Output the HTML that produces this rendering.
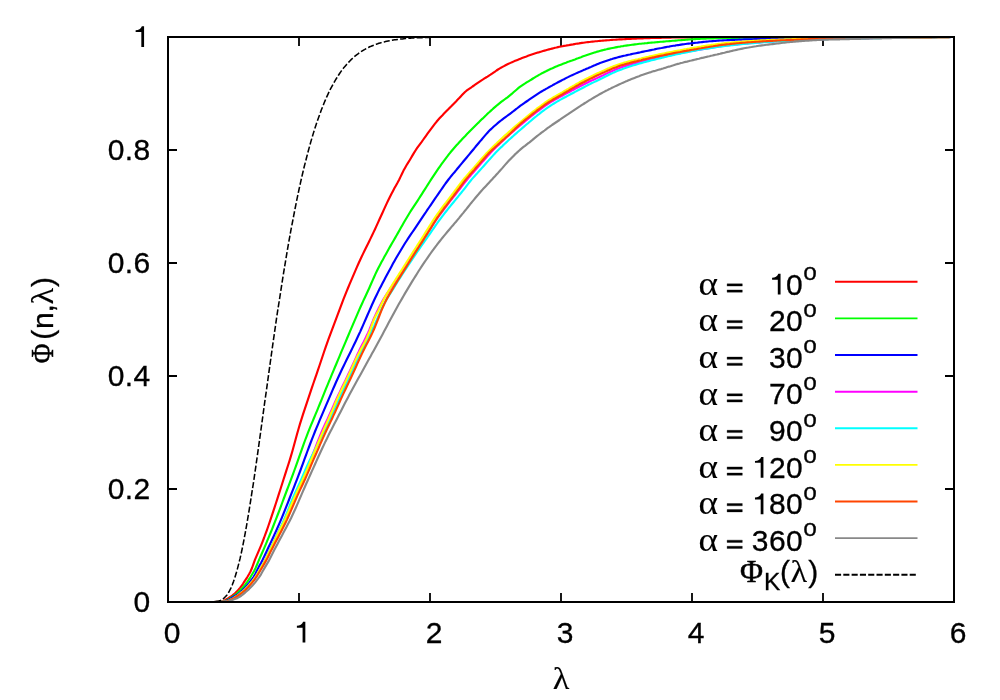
<!DOCTYPE html>
<html><head><meta charset="utf-8"><title>chart</title>
<style>html,body{margin:0;padding:0;background:#fff}svg{display:block}</style></head>
<body>
<svg width="1000" height="700" viewBox="0 0 1000 700" style="will-change:transform">
<rect width="1000" height="700" fill="#fff"/>
<path d="M168.0 602V593M168.0 37V46M299.0 602V593M299.0 37V46M430.0 602V593M430.0 37V46M561.0 602V593M561.0 37V46M692.0 602V593M692.0 37V46M823.0 602V593M823.0 37V46M954.0 602V593M954.0 37V46M168 602.0H177M954 602.0H945M168 489.0H177M954 489.0H945M168 376.0H177M954 376.0H945M168 263.0H177M954 263.0H945M168 150.0H177M954 150.0H945M168 37.0H177M954 37.0H945" stroke="#000" stroke-width="1.8" fill="none"/>
<g fill="none" stroke-width="2.15" stroke-linejoin="round">
<path d="M213.8 602.0 L222.0 601.5 L223.5 600.8 L225.0 600.1 L226.5 599.3 L228.0 598.5 L229.5 597.5 L231.0 596.5 L232.5 595.4 L234.0 594.2 L235.5 592.8 L237.0 591.3 L238.5 589.7 L240.0 587.9 L241.5 586.0 L243.0 583.8 L244.5 581.4 L246.0 579.1 L247.5 576.8 L249.0 574.3 L250.5 571.5 L252.0 568.0 L253.5 563.8 L255.0 559.7 L256.5 556.2 L258.0 552.7 L259.5 549.2 L261.0 545.6 L262.5 541.8 L264.0 538.0 L265.5 533.9 L267.0 529.8 L268.5 525.5 L270.0 521.2 L271.5 516.7 L273.0 512.2 L274.5 507.6 L276.0 503.0 L277.5 498.4 L279.0 493.7 L280.5 489.0 L282.0 484.2 L283.5 479.5 L285.0 474.8 L286.5 470.2 L288.0 465.5 L289.5 460.8 L291.0 455.9 L292.5 450.7 L294.0 445.3 L295.5 439.8 L297.0 434.3 L298.5 429.0 L300.0 423.9 L301.5 419.1 L303.0 414.4 L304.5 409.8 L306.0 405.3 L307.5 400.8 L309.0 396.3 L310.5 391.8 L312.0 387.4 L313.5 383.0 L315.0 378.6 L316.5 374.3 L318.0 369.9 L319.5 365.5 L321.0 361.0 L322.5 356.5 L324.0 352.0 L325.5 347.6 L327.0 343.4 L328.5 339.2 L330.0 335.1 L331.5 331.1 L333.0 327.1 L334.5 323.2 L336.0 319.2 L337.5 315.2 L339.0 311.1 L340.5 307.1 L342.0 303.1 L343.5 299.2 L345.0 295.4 L346.5 291.7 L348.0 288.0 L349.5 284.4 L351.0 280.9 L352.5 277.3 L354.0 273.8 L355.5 270.4 L357.0 266.9 L358.5 263.5 L360.0 260.2 L361.5 257.0 L363.0 253.9 L364.5 250.8 L366.0 247.7 L367.5 244.7 L369.0 241.7 L370.5 238.6 L372.0 235.5 L373.5 232.4 L375.0 229.2 L376.5 225.9 L378.0 222.6 L379.5 219.3 L381.0 216.0 L382.5 212.7 L384.0 209.4 L385.5 206.1 L387.0 202.9 L388.5 199.8 L390.0 196.7 L391.5 193.8 L393.0 190.9 L394.5 188.1 L396.0 185.4 L397.5 182.8 L399.0 180.0 L400.5 176.9 L402.0 173.7 L403.5 170.6 L405.0 167.9 L406.5 165.3 L408.0 162.9 L409.5 160.5 L411.0 158.0 L412.5 155.4 L414.0 152.9 L415.5 150.5 L417.0 148.2 L418.5 146.1 L420.0 144.1 L421.5 142.1 L423.0 140.0 L424.5 137.9 L426.0 135.8 L427.5 133.7 L429.0 131.6 L430.5 129.6 L432.0 127.6 L433.5 125.6 L435.0 123.7 L436.5 121.8 L438.0 120.0 L439.5 118.3 L441.0 116.7 L442.5 115.2 L444.0 113.6 L445.5 112.1 L447.0 110.6 L448.5 109.1 L450.0 107.5 L451.5 106.0 L453.0 104.4 L454.5 102.9 L456.0 101.4 L457.5 99.8 L459.0 98.3 L460.5 96.7 L462.0 95.1 L463.5 93.5 L465.0 92.0 L466.5 90.7 L468.0 89.6 L469.5 88.6 L471.0 87.6 L472.5 86.5 L474.0 85.5 L475.5 84.4 L477.0 83.3 L478.5 82.3 L480.0 81.3 L481.5 80.3 L483.0 79.4 L484.5 78.4 L486.0 77.5 L487.5 76.6 L489.0 75.6 L490.5 74.7 L492.0 73.7 L493.5 72.6 L495.0 71.6 L496.5 70.5 L498.0 69.5 L499.5 68.6 L501.0 67.7 L502.5 66.9 L504.0 66.1 L505.5 65.3 L507.0 64.5 L508.5 63.8 L510.0 63.1 L511.5 62.4 L513.0 61.8 L514.5 61.1 L516.0 60.5 L517.5 59.9 L519.0 59.3 L520.5 58.7 L522.0 58.1 L523.5 57.5 L525.0 56.9 L526.5 56.4 L528.0 55.8 L529.5 55.3 L531.0 54.8 L532.5 54.3 L534.0 53.8 L535.5 53.3 L537.0 52.8 L538.5 52.4 L540.0 51.9 L541.5 51.5 L543.0 51.0 L544.5 50.6 L546.0 50.2 L547.5 49.8 L549.0 49.4 L550.5 49.0 L552.0 48.6 L553.5 48.2 L555.0 47.8 L556.5 47.5 L558.0 47.1 L559.5 46.8 L561.0 46.5 L562.5 46.2 L564.0 45.9 L565.5 45.7 L567.0 45.4 L568.5 45.2 L570.0 44.9 L571.5 44.6 L573.0 44.4 L574.5 44.1 L576.0 43.8 L577.5 43.6 L579.0 43.4 L580.5 43.1 L582.0 42.9 L583.5 42.7 L585.0 42.5 L586.5 42.3 L588.0 42.1 L589.5 42.0 L591.0 41.8 L592.5 41.6 L594.0 41.5 L595.5 41.3 L597.0 41.2 L598.5 41.0 L600.0 40.9 L601.5 40.8 L603.0 40.6 L604.5 40.5 L606.0 40.4 L607.5 40.3 L609.0 40.2 L610.5 40.0 L612.0 39.9 L613.5 39.8 L615.0 39.7 L616.5 39.6 L618.0 39.5 L619.5 39.4 L621.0 39.3 L622.5 39.3 L624.0 39.2 L625.5 39.1 L627.0 39.0 L628.5 38.9 L630.0 38.8 L631.5 38.8 L633.0 38.7 L634.5 38.6 L636.0 38.6 L637.5 38.5 L639.0 38.4 L640.5 38.4 L642.0 38.3 L643.5 38.3 L645.0 38.2 L646.5 38.2 L648.0 38.1 L649.5 38.1 L651.0 38.0 L652.5 38.0 L654.0 37.9 L655.5 37.9 L657.0 37.9 L658.5 37.8 L660.0 37.8 L661.5 37.8 L663.0 37.7 L664.5 37.7 L666.0 37.7 L667.5 37.6 L669.0 37.6 L670.5 37.6 L672.0 37.5 L673.5 37.5 L675.0 37.5 L676.5 37.5 L678.0 37.4 L679.5 37.4 L681.0 37.4 L682.5 37.4 L684.0 37.3 L685.5 37.3 L687.0 37.3 L688.5 37.3 L690.0 37.3 L691.5 37.3 L693.0 37.3 L694.5 37.3 L696.0 37.3 L697.5 37.3 L699.0 37.3 L700.5 37.3 L702.0 37.3 L703.5 37.3 L705.0 37.3 L706.5 37.3 L708.0 37.3 L709.5 37.2 L711.0 37.2 L712.5 37.2 L714.0 37.2 L715.5 37.2 L717.0 37.2 L718.5 37.2 L720.0 37.2 L721.5 37.2 L723.0 37.2 L724.5 37.2 L726.0 37.2 L727.5 37.2 L729.0 37.2 L730.5 37.2 L732.0 37.2 L733.5 37.2 L735.0 37.2 L736.5 37.2 L738.0 37.2 L739.5 37.2 L741.0 37.2 L742.5 37.2 L744.0 37.2 L745.5 37.2 L747.0 37.2 L748.5 37.2 L750.0 37.2 L751.5 37.2 L753.0 37.2 L754.5 37.2 L756.0 37.2 L757.5 37.1 L759.0 37.1 L760.5 37.1 L762.0 37.1 L763.5 37.1 L765.0 37.1 L766.5 37.1 L768.0 37.1 L769.5 37.1 L771.0 37.1 L772.5 37.1 L774.0 37.1 L775.5 37.1 L777.0 37.1 L778.5 37.1 L780.0 37.1 L781.5 37.1 L783.0 37.1 L784.5 37.1 L786.0 37.1 L787.5 37.1 L789.0 37.1 L790.5 37.1 L792.0 37.1 L793.5 37.1 L795.0 37.1 L796.5 37.1 L798.0 37.1 L799.5 37.1 L801.0 37.1 L802.5 37.1 L804.0 37.1 L805.5 37.1 L807.0 37.1 L808.5 37.1 L810.0 37.1 L811.5 37.1 L813.0 37.1 L814.5 37.1 L816.0 37.1 L817.5 37.1 L819.0 37.1 L820.5 37.1 L822.0 37.1 L823.5 37.1 L825.0 37.1 L826.5 37.1 L828.0 37.1 L829.5 37.1 L831.0 37.0 L832.5 37.0 L834.0 37.0 L835.5 37.0 L837.0 37.0 L838.5 37.0 L840.0 37.0 L841.5 37.0 L843.0 37.0 L844.5 37.0 L846.0 37.0 L847.5 37.0 L849.0 37.0 L850.5 37.0 L852.0 37.0 L853.5 37.0 L855.0 37.0 L856.5 37.0 L858.0 37.0 L859.5 37.0 L861.0 37.0 L862.5 37.0 L864.0 37.0 L865.5 37.0 L867.0 37.0 L868.5 37.0 L870.0 37.0 L871.5 37.0 L873.0 37.0 L874.5 37.0 L876.0 37.0 L877.5 37.0 L879.0 37.0 L880.5 37.0 L882.0 37.0 L883.5 37.0 L885.0 37.0 L886.5 37.0 L888.0 37.0 L889.5 37.0 L891.0 37.0 L892.5 37.0 L894.0 37.0 L895.5 37.0 L897.0 37.0 L898.5 37.0 L900.0 37.0 L901.5 37.0 L903.0 37.0 L904.5 37.0 L906.0 37.0 L907.5 37.0 L909.0 37.0 L910.5 37.0 L912.0 37.0 L913.5 37.0 L915.0 37.0 L916.5 37.0 L918.0 37.0 L919.5 37.0 L921.0 37.0 L922.5 37.0 L924.0 37.0 L925.5 37.0 L927.0 37.0 L928.5 37.0 L930.0 37.0 L931.5 37.0 L933.0 37.0 L934.5 37.0 L936.0 37.0 L937.5 37.0 L939.0 37.0 L940.5 37.0 L942.0 37.0 L943.5 37.0 L945.0 37.0 L946.5 37.0 L948.0 37.0 L949.5 37.0 L951.0 37.0 L952.5 37.0 L954.0 37.0" stroke="#ff0000"/>
<path d="M213.8 602.0 L224.0 601.5 L225.5 600.9 L227.0 600.3 L228.5 599.4 L230.0 598.4 L231.5 597.4 L233.0 596.4 L234.5 595.4 L236.0 594.3 L237.5 593.1 L239.0 591.6 L240.5 590.1 L242.0 588.5 L243.5 586.8 L245.0 585.0 L246.5 583.0 L248.0 580.9 L249.5 578.7 L251.0 576.3 L252.5 573.8 L254.0 571.2 L255.5 568.1 L257.0 564.7 L258.5 561.2 L260.0 557.7 L261.5 554.3 L263.0 550.8 L264.5 547.3 L266.0 543.8 L267.5 540.2 L269.0 536.6 L270.5 533.0 L272.0 529.3 L273.5 525.5 L275.0 521.7 L276.5 517.9 L278.0 514.0 L279.5 510.1 L281.0 506.1 L282.5 502.0 L284.0 498.0 L285.5 494.0 L287.0 490.0 L288.5 486.1 L290.0 482.1 L291.5 478.1 L293.0 474.1 L294.5 470.0 L296.0 465.9 L297.5 461.6 L299.0 457.4 L300.5 453.1 L302.0 448.8 L303.5 444.6 L305.0 440.5 L306.5 436.6 L308.0 432.7 L309.5 428.9 L311.0 425.2 L312.5 421.6 L314.0 418.0 L315.5 414.4 L317.0 410.8 L318.5 407.2 L320.0 403.5 L321.5 399.9 L323.0 396.2 L324.5 392.4 L326.0 388.7 L327.5 385.1 L329.0 381.4 L330.5 377.8 L332.0 374.2 L333.5 370.6 L335.0 367.0 L336.5 363.5 L338.0 359.9 L339.5 356.3 L341.0 352.7 L342.5 349.2 L344.0 345.6 L345.5 342.1 L347.0 338.5 L348.5 335.0 L350.0 331.4 L351.5 327.9 L353.0 324.3 L354.5 320.8 L356.0 317.3 L357.5 313.8 L359.0 310.4 L360.5 307.0 L362.0 303.7 L363.5 300.4 L365.0 297.2 L366.5 294.0 L368.0 290.8 L369.5 287.5 L371.0 284.0 L372.5 280.6 L374.0 277.2 L375.5 273.9 L377.0 270.7 L378.5 267.7 L380.0 264.9 L381.5 262.1 L383.0 259.4 L384.5 256.6 L386.0 253.9 L387.5 251.2 L389.0 248.5 L390.5 245.9 L392.0 243.3 L393.5 240.7 L395.0 238.1 L396.5 235.5 L398.0 232.9 L399.5 230.3 L401.0 227.6 L402.5 224.9 L404.0 222.3 L405.5 219.7 L407.0 217.2 L408.5 214.7 L410.0 212.3 L411.5 209.9 L413.0 207.6 L414.5 205.3 L416.0 203.1 L417.5 200.8 L419.0 198.5 L420.5 196.1 L422.0 193.8 L423.5 191.4 L425.0 189.1 L426.5 186.7 L428.0 184.4 L429.5 182.0 L431.0 179.7 L432.5 177.4 L434.0 175.1 L435.5 172.8 L437.0 170.6 L438.5 168.4 L440.0 166.3 L441.5 164.2 L443.0 162.2 L444.5 160.1 L446.0 158.1 L447.5 156.2 L449.0 154.2 L450.5 152.3 L452.0 150.5 L453.5 148.7 L455.0 147.0 L456.5 145.3 L458.0 143.7 L459.5 142.0 L461.0 140.4 L462.5 138.8 L464.0 137.2 L465.5 135.7 L467.0 134.1 L468.5 132.6 L470.0 131.0 L471.5 129.5 L473.0 128.0 L474.5 126.5 L476.0 125.0 L477.5 123.5 L479.0 122.1 L480.5 120.6 L482.0 119.1 L483.5 117.7 L485.0 116.2 L486.5 114.8 L488.0 113.3 L489.5 112.0 L491.0 110.6 L492.5 109.3 L494.0 107.9 L495.5 106.6 L497.0 105.3 L498.5 104.1 L500.0 102.9 L501.5 101.7 L503.0 100.6 L504.5 99.5 L506.0 98.4 L507.5 97.3 L509.0 96.1 L510.5 94.9 L512.0 93.7 L513.5 92.3 L515.0 91.0 L516.5 89.7 L518.0 88.4 L519.5 87.2 L521.0 86.1 L522.5 85.1 L524.0 84.1 L525.5 83.2 L527.0 82.2 L528.5 81.3 L530.0 80.4 L531.5 79.5 L533.0 78.5 L534.5 77.6 L536.0 76.7 L537.5 75.8 L539.0 74.9 L540.5 74.1 L542.0 73.2 L543.5 72.5 L545.0 71.7 L546.5 71.0 L548.0 70.2 L549.5 69.5 L551.0 68.8 L552.5 68.2 L554.0 67.5 L555.5 66.8 L557.0 66.2 L558.5 65.6 L560.0 65.0 L561.5 64.4 L563.0 63.8 L564.5 63.2 L566.0 62.7 L567.5 62.1 L569.0 61.6 L570.5 61.0 L572.0 60.5 L573.5 59.9 L575.0 59.4 L576.5 58.8 L578.0 58.3 L579.5 57.7 L581.0 57.2 L582.5 56.6 L584.0 56.1 L585.5 55.6 L587.0 55.0 L588.5 54.5 L590.0 54.0 L591.5 53.5 L593.0 53.0 L594.5 52.5 L596.0 52.1 L597.5 51.6 L599.0 51.2 L600.5 50.8 L602.0 50.4 L603.5 50.0 L605.0 49.6 L606.5 49.3 L608.0 48.9 L609.5 48.6 L611.0 48.3 L612.5 48.0 L614.0 47.7 L615.5 47.4 L617.0 47.1 L618.5 46.8 L620.0 46.6 L621.5 46.3 L623.0 46.1 L624.5 45.8 L626.0 45.6 L627.5 45.4 L629.0 45.2 L630.5 45.0 L632.0 44.8 L633.5 44.6 L635.0 44.4 L636.5 44.2 L638.0 44.0 L639.5 43.8 L641.0 43.7 L642.5 43.5 L644.0 43.4 L645.5 43.2 L647.0 43.1 L648.5 42.9 L650.0 42.8 L651.5 42.6 L653.0 42.5 L654.5 42.4 L656.0 42.2 L657.5 42.1 L659.0 42.0 L660.5 41.8 L662.0 41.7 L663.5 41.6 L665.0 41.5 L666.5 41.3 L668.0 41.2 L669.5 41.1 L671.0 41.0 L672.5 40.8 L674.0 40.7 L675.5 40.6 L677.0 40.5 L678.5 40.3 L680.0 40.2 L681.5 40.1 L683.0 40.0 L684.5 39.9 L686.0 39.7 L687.5 39.6 L689.0 39.5 L690.5 39.4 L692.0 39.3 L693.5 39.2 L695.0 39.1 L696.5 39.0 L698.0 39.0 L699.5 38.9 L701.0 38.8 L702.5 38.7 L704.0 38.7 L705.5 38.6 L707.0 38.5 L708.5 38.5 L710.0 38.4 L711.5 38.4 L713.0 38.3 L714.5 38.3 L716.0 38.2 L717.5 38.2 L719.0 38.1 L720.5 38.1 L722.0 38.1 L723.5 38.0 L725.0 38.0 L726.5 38.0 L728.0 38.0 L729.5 37.9 L731.0 37.9 L732.5 37.9 L734.0 37.9 L735.5 37.8 L737.0 37.8 L738.5 37.8 L740.0 37.8 L741.5 37.7 L743.0 37.7 L744.5 37.7 L746.0 37.7 L747.5 37.7 L749.0 37.6 L750.5 37.6 L752.0 37.6 L753.5 37.6 L755.0 37.6 L756.5 37.5 L758.0 37.5 L759.5 37.5 L761.0 37.5 L762.5 37.5 L764.0 37.4 L765.5 37.4 L767.0 37.4 L768.5 37.4 L770.0 37.4 L771.5 37.4 L773.0 37.4 L774.5 37.3 L776.0 37.3 L777.5 37.3 L779.0 37.3 L780.5 37.3 L782.0 37.3 L783.5 37.3 L785.0 37.3 L786.5 37.3 L788.0 37.3 L789.5 37.3 L791.0 37.3 L792.5 37.3 L794.0 37.3 L795.5 37.2 L797.0 37.2 L798.5 37.2 L800.0 37.2 L801.5 37.2 L803.0 37.2 L804.5 37.2 L806.0 37.2 L807.5 37.2 L809.0 37.2 L810.5 37.2 L812.0 37.2 L813.5 37.2 L815.0 37.2 L816.5 37.2 L818.0 37.2 L819.5 37.2 L821.0 37.2 L822.5 37.2 L824.0 37.2 L825.5 37.2 L827.0 37.2 L828.5 37.2 L830.0 37.1 L831.5 37.1 L833.0 37.1 L834.5 37.1 L836.0 37.1 L837.5 37.1 L839.0 37.1 L840.5 37.1 L842.0 37.1 L843.5 37.1 L845.0 37.1 L846.5 37.1 L848.0 37.1 L849.5 37.1 L851.0 37.1 L852.5 37.1 L854.0 37.1 L855.5 37.1 L857.0 37.1 L858.5 37.1 L860.0 37.1 L861.5 37.1 L863.0 37.1 L864.5 37.1 L866.0 37.1 L867.5 37.1 L869.0 37.1 L870.5 37.1 L872.0 37.1 L873.5 37.1 L875.0 37.1 L876.5 37.1 L878.0 37.1 L879.5 37.1 L881.0 37.1 L882.5 37.0 L884.0 37.0 L885.5 37.0 L887.0 37.0 L888.5 37.0 L890.0 37.0 L891.5 37.0 L893.0 37.0 L894.5 37.0 L896.0 37.0 L897.5 37.0 L899.0 37.0 L900.5 37.0 L902.0 37.0 L903.5 37.0 L905.0 37.0 L906.5 37.0 L908.0 37.0 L909.5 37.0 L911.0 37.0 L912.5 37.0 L914.0 37.0 L915.5 37.0 L917.0 37.0 L918.5 37.0 L920.0 37.0 L921.5 37.0 L923.0 37.0 L924.5 37.0 L926.0 37.0 L927.5 37.0 L929.0 37.0 L930.5 37.0 L932.0 37.0 L933.5 37.0 L935.0 37.0 L936.5 37.0 L938.0 37.0 L939.5 37.0 L941.0 37.0 L942.5 37.0 L944.0 37.0 L945.5 37.0 L947.0 37.0 L948.5 37.0 L950.0 37.0 L951.5 37.0 L953.0 37.0 L954.0 37.0" stroke="#00ff00"/>
<path d="M213.8 602.0 L225.0 601.5 L226.5 600.9 L228.0 600.3 L229.5 599.4 L231.0 598.4 L232.5 597.4 L234.0 596.5 L235.5 595.7 L237.0 594.8 L238.5 593.8 L240.0 592.6 L241.5 591.2 L243.0 589.8 L244.5 588.3 L246.0 586.6 L247.5 584.9 L249.0 583.1 L250.5 581.2 L252.0 579.2 L253.5 577.1 L255.0 574.6 L256.5 571.5 L258.0 568.4 L259.5 565.6 L261.0 562.9 L262.5 560.0 L264.0 556.9 L265.5 553.7 L267.0 550.5 L268.5 547.3 L270.0 544.1 L271.5 540.9 L273.0 537.7 L274.5 534.4 L276.0 531.1 L277.5 527.8 L279.0 524.3 L280.5 520.8 L282.0 517.3 L283.5 513.6 L285.0 509.9 L286.5 506.1 L288.0 502.3 L289.5 498.5 L291.0 494.7 L292.5 490.9 L294.0 487.1 L295.5 483.2 L297.0 479.4 L298.5 475.4 L300.0 471.5 L301.5 467.4 L303.0 463.3 L304.5 459.2 L306.0 455.1 L307.5 451.0 L309.0 447.0 L310.5 443.0 L312.0 439.1 L313.5 435.3 L315.0 431.5 L316.5 427.9 L318.0 424.3 L319.5 420.7 L321.0 417.2 L322.5 413.7 L324.0 410.2 L325.5 406.6 L327.0 403.1 L328.5 399.6 L330.0 396.1 L331.5 392.6 L333.0 389.1 L334.5 385.7 L336.0 382.3 L337.5 379.0 L339.0 375.7 L340.5 372.5 L342.0 369.3 L343.5 366.2 L345.0 363.1 L346.5 360.1 L348.0 357.0 L349.5 354.0 L351.0 351.0 L352.5 347.9 L354.0 344.8 L355.5 341.7 L357.0 338.5 L358.5 335.3 L360.0 332.1 L361.5 328.7 L363.0 325.4 L364.5 321.9 L366.0 318.5 L367.5 315.0 L369.0 311.6 L370.5 308.2 L372.0 304.8 L373.5 301.5 L375.0 298.3 L376.5 295.2 L378.0 292.1 L379.5 289.1 L381.0 286.2 L382.5 283.3 L384.0 280.4 L385.5 277.5 L387.0 274.7 L388.5 272.0 L390.0 269.2 L391.5 266.4 L393.0 263.6 L394.5 260.9 L396.0 258.3 L397.5 255.7 L399.0 253.2 L400.5 250.7 L402.0 248.2 L403.5 245.7 L405.0 243.3 L406.5 241.0 L408.0 238.7 L409.5 236.4 L411.0 234.2 L412.5 232.0 L414.0 229.8 L415.5 227.6 L417.0 225.4 L418.5 223.1 L420.0 220.9 L421.5 218.7 L423.0 216.4 L424.5 214.2 L426.0 212.0 L427.5 209.7 L429.0 207.5 L430.5 205.3 L432.0 203.1 L433.5 200.9 L435.0 198.7 L436.5 196.5 L438.0 194.3 L439.5 192.1 L441.0 190.0 L442.5 187.8 L444.0 185.7 L445.5 183.5 L447.0 181.5 L448.5 179.5 L450.0 177.6 L451.5 175.7 L453.0 173.9 L454.5 172.2 L456.0 170.4 L457.5 168.5 L459.0 166.7 L460.5 164.9 L462.0 163.1 L463.5 161.3 L465.0 159.5 L466.5 157.7 L468.0 155.9 L469.5 154.1 L471.0 152.3 L472.5 150.5 L474.0 148.7 L475.5 146.8 L477.0 145.0 L478.5 143.2 L480.0 141.4 L481.5 139.7 L483.0 137.9 L484.5 136.1 L486.0 134.4 L487.5 132.7 L489.0 131.1 L490.5 129.6 L492.0 128.2 L493.5 126.8 L495.0 125.5 L496.5 124.2 L498.0 122.9 L499.5 121.7 L501.0 120.5 L502.5 119.3 L504.0 118.2 L505.5 117.1 L507.0 116.0 L508.5 114.9 L510.0 113.8 L511.5 112.7 L513.0 111.5 L514.5 110.3 L516.0 109.1 L517.5 108.0 L519.0 106.8 L520.5 105.7 L522.0 104.7 L523.5 103.6 L525.0 102.5 L526.5 101.5 L528.0 100.5 L529.5 99.4 L531.0 98.4 L532.5 97.4 L534.0 96.4 L535.5 95.4 L537.0 94.4 L538.5 93.4 L540.0 92.4 L541.5 91.5 L543.0 90.6 L544.5 89.8 L546.0 88.9 L547.5 88.1 L549.0 87.2 L550.5 86.4 L552.0 85.6 L553.5 84.7 L555.0 83.9 L556.5 83.1 L558.0 82.3 L559.5 81.5 L561.0 80.7 L562.5 79.9 L564.0 79.2 L565.5 78.4 L567.0 77.6 L568.5 76.9 L570.0 76.1 L571.5 75.4 L573.0 74.8 L574.5 74.1 L576.0 73.4 L577.5 72.7 L579.0 72.1 L580.5 71.4 L582.0 70.8 L583.5 70.1 L585.0 69.5 L586.5 68.8 L588.0 68.2 L589.5 67.5 L591.0 66.9 L592.5 66.2 L594.0 65.6 L595.5 65.0 L597.0 64.3 L598.5 63.7 L600.0 63.1 L601.5 62.6 L603.0 62.0 L604.5 61.4 L606.0 60.9 L607.5 60.4 L609.0 59.9 L610.5 59.4 L612.0 59.0 L613.5 58.5 L615.0 58.1 L616.5 57.7 L618.0 57.3 L619.5 56.9 L621.0 56.5 L622.5 56.1 L624.0 55.8 L625.5 55.5 L627.0 55.1 L628.5 54.8 L630.0 54.5 L631.5 54.1 L633.0 53.8 L634.5 53.5 L636.0 53.2 L637.5 52.9 L639.0 52.6 L640.5 52.3 L642.0 51.9 L643.5 51.6 L645.0 51.3 L646.5 51.0 L648.0 50.7 L649.5 50.4 L651.0 50.1 L652.5 49.8 L654.0 49.5 L655.5 49.1 L657.0 48.8 L658.5 48.5 L660.0 48.2 L661.5 48.0 L663.0 47.7 L664.5 47.4 L666.0 47.1 L667.5 46.8 L669.0 46.6 L670.5 46.3 L672.0 46.0 L673.5 45.8 L675.0 45.6 L676.5 45.3 L678.0 45.1 L679.5 44.9 L681.0 44.6 L682.5 44.4 L684.0 44.2 L685.5 44.0 L687.0 43.8 L688.5 43.6 L690.0 43.5 L691.5 43.3 L693.0 43.1 L694.5 42.9 L696.0 42.7 L697.5 42.6 L699.0 42.4 L700.5 42.3 L702.0 42.1 L703.5 41.9 L705.0 41.8 L706.5 41.6 L708.0 41.5 L709.5 41.3 L711.0 41.2 L712.5 41.1 L714.0 41.0 L715.5 40.9 L717.0 40.7 L718.5 40.6 L720.0 40.5 L721.5 40.5 L723.0 40.4 L724.5 40.3 L726.0 40.2 L727.5 40.1 L729.0 40.1 L730.5 40.0 L732.0 39.9 L733.5 39.8 L735.0 39.8 L736.5 39.7 L738.0 39.7 L739.5 39.6 L741.0 39.6 L742.5 39.5 L744.0 39.4 L745.5 39.4 L747.0 39.3 L748.5 39.3 L750.0 39.2 L751.5 39.2 L753.0 39.2 L754.5 39.1 L756.0 39.1 L757.5 39.0 L759.0 39.0 L760.5 38.9 L762.0 38.9 L763.5 38.9 L765.0 38.8 L766.5 38.8 L768.0 38.8 L769.5 38.7 L771.0 38.7 L772.5 38.7 L774.0 38.6 L775.5 38.6 L777.0 38.6 L778.5 38.5 L780.0 38.5 L781.5 38.5 L783.0 38.5 L784.5 38.4 L786.0 38.4 L787.5 38.4 L789.0 38.4 L790.5 38.3 L792.0 38.3 L793.5 38.3 L795.0 38.3 L796.5 38.3 L798.0 38.2 L799.5 38.2 L801.0 38.2 L802.5 38.2 L804.0 38.1 L805.5 38.1 L807.0 38.1 L808.5 38.1 L810.0 38.1 L811.5 38.0 L813.0 38.0 L814.5 38.0 L816.0 38.0 L817.5 38.0 L819.0 37.9 L820.5 37.9 L822.0 37.9 L823.5 37.9 L825.0 37.9 L826.5 37.8 L828.0 37.8 L829.5 37.8 L831.0 37.8 L832.5 37.8 L834.0 37.8 L835.5 37.7 L837.0 37.7 L838.5 37.7 L840.0 37.7 L841.5 37.7 L843.0 37.7 L844.5 37.7 L846.0 37.6 L847.5 37.6 L849.0 37.6 L850.5 37.6 L852.0 37.6 L853.5 37.6 L855.0 37.6 L856.5 37.5 L858.0 37.5 L859.5 37.5 L861.0 37.5 L862.5 37.5 L864.0 37.5 L865.5 37.5 L867.0 37.5 L868.5 37.5 L870.0 37.4 L871.5 37.4 L873.0 37.4 L874.5 37.4 L876.0 37.4 L877.5 37.4 L879.0 37.4 L880.5 37.4 L882.0 37.4 L883.5 37.3 L885.0 37.3 L886.5 37.3 L888.0 37.3 L889.5 37.3 L891.0 37.3 L892.5 37.3 L894.0 37.3 L895.5 37.3 L897.0 37.2 L898.5 37.2 L900.0 37.2 L901.5 37.2 L903.0 37.2 L904.5 37.2 L906.0 37.2 L907.5 37.2 L909.0 37.2 L910.5 37.2 L912.0 37.2 L913.5 37.1 L915.0 37.1 L916.5 37.1 L918.0 37.1 L919.5 37.1 L921.0 37.1 L922.5 37.1 L924.0 37.1 L925.5 37.1 L927.0 37.1 L928.5 37.1 L930.0 37.1 L931.5 37.1 L933.0 37.1 L934.5 37.1 L936.0 37.0 L937.5 37.0 L939.0 37.0 L940.5 37.0 L942.0 37.0 L943.5 37.0 L945.0 37.0 L946.5 37.0 L948.0 37.0 L949.5 37.0 L951.0 37.0 L952.5 37.0 L954.0 37.0" stroke="#0000ff"/>
<path d="M213.8 602.0 L227.0 601.5 L228.5 600.9 L230.0 600.2 L231.5 599.4 L233.0 598.6 L234.5 597.6 L236.0 596.7 L237.5 595.7 L239.0 594.6 L240.5 593.4 L242.0 592.2 L243.5 590.9 L245.0 589.5 L246.5 588.0 L248.0 586.4 L249.5 584.7 L251.0 583.0 L252.5 581.1 L254.0 579.1 L255.5 576.9 L257.0 574.5 L258.5 571.9 L260.0 569.2 L261.5 566.6 L263.0 563.9 L264.5 561.1 L266.0 558.2 L267.5 555.0 L269.0 551.8 L270.5 548.6 L272.0 545.4 L273.5 542.2 L275.0 539.1 L276.5 535.9 L278.0 532.8 L279.5 529.7 L281.0 526.7 L282.5 523.7 L284.0 520.6 L285.5 517.3 L287.0 513.8 L288.5 510.3 L290.0 506.8 L291.5 503.2 L293.0 499.6 L294.5 496.2 L296.0 492.9 L297.5 489.6 L299.0 486.4 L300.5 483.2 L302.0 479.9 L303.5 476.5 L305.0 473.0 L306.5 469.5 L308.0 466.0 L309.5 462.4 L311.0 458.8 L312.5 455.0 L314.0 451.1 L315.5 447.3 L317.0 443.4 L318.5 439.6 L320.0 435.8 L321.5 432.2 L323.0 428.7 L324.5 425.5 L326.0 422.3 L327.5 419.1 L329.0 415.8 L330.5 412.5 L332.0 409.1 L333.5 405.7 L335.0 402.2 L336.5 398.9 L338.0 395.7 L339.5 392.6 L341.0 389.4 L342.5 386.3 L344.0 383.3 L345.5 380.2 L347.0 377.0 L348.5 373.8 L350.0 370.6 L351.5 367.4 L353.0 364.1 L354.5 360.9 L356.0 357.6 L357.5 354.3 L359.0 351.1 L360.5 348.1 L362.0 345.1 L363.5 342.2 L365.0 339.1 L366.5 336.0 L368.0 332.9 L369.5 329.5 L371.0 325.7 L372.5 321.8 L374.0 318.2 L375.5 314.9 L377.0 311.7 L378.5 308.6 L380.0 305.7 L381.5 302.8 L383.0 300.1 L384.5 297.5 L386.0 295.1 L387.5 292.8 L389.0 290.5 L390.5 288.2 L392.0 286.0 L393.5 283.8 L395.0 281.6 L396.5 279.4 L398.0 277.3 L399.5 275.2 L401.0 273.1 L402.5 270.9 L404.0 268.7 L405.5 266.4 L407.0 264.2 L408.5 261.9 L410.0 259.6 L411.5 257.3 L413.0 255.1 L414.5 252.8 L416.0 250.6 L417.5 248.4 L419.0 246.1 L420.5 243.9 L422.0 241.6 L423.5 239.4 L425.0 237.1 L426.5 234.8 L428.0 232.4 L429.5 230.1 L431.0 227.8 L432.5 225.5 L434.0 223.1 L435.5 220.9 L437.0 218.7 L438.5 216.6 L440.0 214.5 L441.5 212.5 L443.0 210.5 L444.5 208.5 L446.0 206.5 L447.5 204.6 L449.0 202.6 L450.5 200.7 L452.0 198.8 L453.5 196.9 L455.0 195.0 L456.5 193.1 L458.0 191.2 L459.5 189.3 L461.0 187.3 L462.5 185.4 L464.0 183.4 L465.5 181.5 L467.0 179.7 L468.5 177.9 L470.0 176.2 L471.5 174.4 L473.0 172.7 L474.5 171.0 L476.0 169.3 L477.5 167.6 L479.0 165.9 L480.5 164.1 L482.0 162.4 L483.5 160.7 L485.0 159.0 L486.5 157.2 L488.0 155.5 L489.5 153.9 L491.0 152.3 L492.5 150.8 L494.0 149.3 L495.5 147.8 L497.0 146.3 L498.5 144.9 L500.0 143.4 L501.5 142.0 L503.0 140.6 L504.5 139.2 L506.0 137.8 L507.5 136.4 L509.0 135.1 L510.5 133.8 L512.0 132.4 L513.5 131.1 L515.0 129.8 L516.5 128.5 L518.0 127.2 L519.5 125.9 L521.0 124.7 L522.5 123.4 L524.0 122.2 L525.5 120.9 L527.0 119.7 L528.5 118.4 L530.0 117.2 L531.5 116.0 L533.0 114.8 L534.5 113.7 L536.0 112.5 L537.5 111.4 L539.0 110.3 L540.5 109.2 L542.0 108.1 L543.5 107.0 L545.0 105.9 L546.5 104.9 L548.0 103.9 L549.5 102.9 L551.0 101.9 L552.5 101.0 L554.0 100.2 L555.5 99.3 L557.0 98.5 L558.5 97.7 L560.0 96.8 L561.5 96.0 L563.0 95.2 L564.5 94.4 L566.0 93.6 L567.5 92.8 L569.0 92.0 L570.5 91.2 L572.0 90.4 L573.5 89.7 L575.0 88.9 L576.5 88.1 L578.0 87.3 L579.5 86.5 L581.0 85.8 L582.5 85.0 L584.0 84.3 L585.5 83.5 L587.0 82.8 L588.5 82.0 L590.0 81.3 L591.5 80.6 L593.0 79.9 L594.5 79.3 L596.0 78.6 L597.5 77.9 L599.0 77.2 L600.5 76.5 L602.0 75.8 L603.5 75.1 L605.0 74.3 L606.5 73.6 L608.0 72.9 L609.5 72.2 L611.0 71.5 L612.5 70.9 L614.0 70.2 L615.5 69.6 L617.0 69.0 L618.5 68.4 L620.0 67.8 L621.5 67.3 L623.0 66.8 L624.5 66.3 L626.0 65.9 L627.5 65.4 L629.0 65.0 L630.5 64.6 L632.0 64.1 L633.5 63.7 L635.0 63.3 L636.5 62.9 L638.0 62.5 L639.5 62.1 L641.0 61.7 L642.5 61.4 L644.0 61.0 L645.5 60.6 L647.0 60.2 L648.5 59.9 L650.0 59.5 L651.5 59.1 L653.0 58.8 L654.5 58.4 L656.0 58.1 L657.5 57.8 L659.0 57.4 L660.5 57.1 L662.0 56.8 L663.5 56.4 L665.0 56.1 L666.5 55.8 L668.0 55.5 L669.5 55.2 L671.0 54.9 L672.5 54.5 L674.0 54.2 L675.5 53.9 L677.0 53.6 L678.5 53.3 L680.0 53.1 L681.5 52.8 L683.0 52.5 L684.5 52.3 L686.0 52.0 L687.5 51.8 L689.0 51.5 L690.5 51.3 L692.0 51.0 L693.5 50.8 L695.0 50.5 L696.5 50.3 L698.0 50.0 L699.5 49.7 L701.0 49.5 L702.5 49.2 L704.0 49.0 L705.5 48.7 L707.0 48.4 L708.5 48.2 L710.0 47.9 L711.5 47.7 L713.0 47.4 L714.5 47.2 L716.0 46.9 L717.5 46.7 L719.0 46.5 L720.5 46.3 L722.0 46.0 L723.5 45.8 L725.0 45.7 L726.5 45.5 L728.0 45.3 L729.5 45.1 L731.0 45.0 L732.5 44.8 L734.0 44.6 L735.5 44.5 L737.0 44.4 L738.5 44.2 L740.0 44.1 L741.5 43.9 L743.0 43.8 L744.5 43.7 L746.0 43.5 L747.5 43.4 L749.0 43.3 L750.5 43.1 L752.0 43.0 L753.5 42.9 L755.0 42.7 L756.5 42.6 L758.0 42.5 L759.5 42.4 L761.0 42.2 L762.5 42.1 L764.0 42.0 L765.5 41.9 L767.0 41.8 L768.5 41.7 L770.0 41.6 L771.5 41.5 L773.0 41.4 L774.5 41.3 L776.0 41.2 L777.5 41.1 L779.0 41.0 L780.5 41.0 L782.0 40.9 L783.5 40.8 L785.0 40.7 L786.5 40.6 L788.0 40.6 L789.5 40.5 L791.0 40.4 L792.5 40.3 L794.0 40.3 L795.5 40.2 L797.0 40.1 L798.5 40.0 L800.0 40.0 L801.5 39.9 L803.0 39.8 L804.5 39.8 L806.0 39.7 L807.5 39.6 L809.0 39.6 L810.5 39.5 L812.0 39.5 L813.5 39.4 L815.0 39.3 L816.5 39.3 L818.0 39.2 L819.5 39.2 L821.0 39.2 L822.5 39.1 L824.0 39.1 L825.5 39.0 L827.0 39.0 L828.5 38.9 L830.0 38.9 L831.5 38.9 L833.0 38.8 L834.5 38.8 L836.0 38.8 L837.5 38.7 L839.0 38.7 L840.5 38.7 L842.0 38.6 L843.5 38.6 L845.0 38.5 L846.5 38.5 L848.0 38.5 L849.5 38.4 L851.0 38.4 L852.5 38.4 L854.0 38.4 L855.5 38.3 L857.0 38.3 L858.5 38.3 L860.0 38.3 L861.5 38.2 L863.0 38.2 L864.5 38.2 L866.0 38.2 L867.5 38.1 L869.0 38.1 L870.5 38.1 L872.0 38.1 L873.5 38.0 L875.0 38.0 L876.5 38.0 L878.0 38.0 L879.5 38.0 L881.0 37.9 L882.5 37.9 L884.0 37.9 L885.5 37.9 L887.0 37.9 L888.5 37.8 L890.0 37.8 L891.5 37.8 L893.0 37.8 L894.5 37.8 L896.0 37.7 L897.5 37.7 L899.0 37.7 L900.5 37.7 L902.0 37.7 L903.5 37.7 L905.0 37.6 L906.5 37.6 L908.0 37.6 L909.5 37.6 L911.0 37.6 L912.5 37.5 L914.0 37.5 L915.5 37.5 L917.0 37.5 L918.5 37.5 L920.0 37.5 L921.5 37.4 L923.0 37.4 L924.5 37.4 L926.0 37.4 L927.5 37.4 L929.0 37.3 L930.5 37.3 L932.0 37.3 L933.5 37.3 L935.0 37.3 L936.5 37.2 L938.0 37.2 L939.5 37.2 L941.0 37.2 L942.5 37.2 L944.0 37.1 L945.5 37.1 L947.0 37.1 L948.5 37.1 L950.0 37.1 L951.5 37.0 L953.0 37.0 L954.0 37.0" stroke="#ff00ff"/>
<path d="M213.8 602.0 L227.0 601.5 L228.5 600.9 L230.0 600.2 L231.5 599.4 L233.0 598.6 L234.5 597.6 L236.0 596.7 L237.5 595.7 L239.0 594.6 L240.5 593.4 L242.0 592.2 L243.5 591.0 L245.0 589.6 L246.5 588.1 L248.0 586.4 L249.5 584.8 L251.0 583.0 L252.5 581.2 L254.0 579.2 L255.5 577.0 L257.0 574.7 L258.5 572.1 L260.0 569.4 L261.5 566.8 L263.0 564.1 L264.5 561.3 L266.0 558.4 L267.5 555.2 L269.0 552.0 L270.5 548.8 L272.0 545.6 L273.5 542.3 L275.0 539.2 L276.5 536.0 L278.0 532.9 L279.5 529.7 L281.0 526.5 L282.5 523.3 L284.0 519.9 L285.5 516.4 L287.0 512.6 L288.5 508.9 L290.0 505.0 L291.5 501.2 L293.0 497.6 L294.5 494.2 L296.0 490.9 L297.5 487.6 L299.0 484.4 L300.5 481.1 L302.0 477.7 L303.5 474.2 L305.0 470.7 L306.5 467.3 L308.0 463.9 L309.5 460.7 L311.0 457.6 L312.5 454.7 L314.0 451.8 L315.5 448.8 L317.0 445.7 L318.5 442.6 L320.0 439.5 L321.5 436.6 L323.0 433.6 L324.5 430.7 L326.0 427.6 L327.5 424.4 L329.0 421.2 L330.5 418.0 L332.0 414.8 L333.5 411.5 L335.0 408.2 L336.5 404.9 L338.0 401.5 L339.5 398.2 L341.0 394.9 L342.5 391.7 L344.0 388.4 L345.5 385.3 L347.0 382.1 L348.5 378.9 L350.0 375.6 L351.5 372.3 L353.0 369.0 L354.5 365.6 L356.0 362.2 L357.5 358.9 L359.0 355.8 L360.5 352.8 L362.0 349.8 L363.5 347.0 L365.0 344.2 L366.5 341.4 L368.0 338.5 L369.5 335.5 L371.0 332.4 L372.5 329.3 L374.0 326.1 L375.5 322.7 L377.0 319.4 L378.5 316.0 L380.0 312.6 L381.5 309.3 L383.0 306.2 L384.5 303.2 L386.0 300.4 L387.5 297.9 L389.0 295.5 L390.5 293.2 L392.0 290.8 L393.5 288.4 L395.0 285.9 L396.5 283.5 L398.0 281.0 L399.5 278.6 L401.0 276.3 L402.5 274.0 L404.0 271.7 L405.5 269.4 L407.0 267.1 L408.5 264.9 L410.0 262.7 L411.5 260.4 L413.0 258.2 L414.5 256.0 L416.0 253.7 L417.5 251.5 L419.0 249.3 L420.5 247.2 L422.0 245.0 L423.5 242.9 L425.0 240.7 L426.5 238.6 L428.0 236.4 L429.5 234.3 L431.0 232.1 L432.5 230.0 L434.0 227.8 L435.5 225.7 L437.0 223.5 L438.5 221.4 L440.0 219.3 L441.5 217.3 L443.0 215.4 L444.5 213.4 L446.0 211.5 L447.5 209.6 L449.0 207.7 L450.5 205.9 L452.0 204.0 L453.5 202.2 L455.0 200.4 L456.5 198.5 L458.0 196.7 L459.5 194.8 L461.0 193.0 L462.5 191.1 L464.0 189.3 L465.5 187.3 L467.0 185.3 L468.5 183.4 L470.0 181.5 L471.5 179.6 L473.0 177.9 L474.5 176.2 L476.0 174.5 L477.5 172.9 L479.0 171.2 L480.5 169.6 L482.0 167.9 L483.5 166.2 L485.0 164.5 L486.5 162.8 L488.0 161.1 L489.5 159.4 L491.0 157.8 L492.5 156.1 L494.0 154.4 L495.5 152.8 L497.0 151.3 L498.5 149.8 L500.0 148.3 L501.5 146.9 L503.0 145.4 L504.5 144.0 L506.0 142.6 L507.5 141.2 L509.0 139.8 L510.5 138.5 L512.0 137.1 L513.5 135.8 L515.0 134.4 L516.5 133.1 L518.0 131.8 L519.5 130.5 L521.0 129.2 L522.5 127.9 L524.0 126.6 L525.5 125.3 L527.0 124.0 L528.5 122.8 L530.0 121.5 L531.5 120.2 L533.0 118.9 L534.5 117.7 L536.0 116.5 L537.5 115.2 L539.0 114.1 L540.5 112.9 L542.0 111.7 L543.5 110.6 L545.0 109.5 L546.5 108.4 L548.0 107.3 L549.5 106.3 L551.0 105.3 L552.5 104.4 L554.0 103.5 L555.5 102.6 L557.0 101.7 L558.5 100.8 L560.0 99.9 L561.5 99.1 L563.0 98.3 L564.5 97.5 L566.0 96.7 L567.5 95.9 L569.0 95.1 L570.5 94.3 L572.0 93.5 L573.5 92.7 L575.0 91.9 L576.5 91.1 L578.0 90.3 L579.5 89.5 L581.0 88.8 L582.5 88.0 L584.0 87.2 L585.5 86.4 L587.0 85.6 L588.5 84.8 L590.0 84.1 L591.5 83.3 L593.0 82.6 L594.5 81.9 L596.0 81.2 L597.5 80.5 L599.0 79.8 L600.5 79.0 L602.0 78.3 L603.5 77.5 L605.0 76.7 L606.5 76.0 L608.0 75.2 L609.5 74.5 L611.0 73.8 L612.5 73.1 L614.0 72.4 L615.5 71.8 L617.0 71.1 L618.5 70.5 L620.0 69.9 L621.5 69.4 L623.0 68.8 L624.5 68.3 L626.0 67.8 L627.5 67.3 L629.0 66.8 L630.5 66.3 L632.0 65.8 L633.5 65.3 L635.0 64.9 L636.5 64.4 L638.0 64.0 L639.5 63.5 L641.0 63.1 L642.5 62.7 L644.0 62.3 L645.5 61.9 L647.0 61.5 L648.5 61.1 L650.0 60.7 L651.5 60.3 L653.0 59.9 L654.5 59.6 L656.0 59.2 L657.5 58.8 L659.0 58.5 L660.5 58.1 L662.0 57.7 L663.5 57.4 L665.0 57.0 L666.5 56.6 L668.0 56.3 L669.5 55.9 L671.0 55.6 L672.5 55.2 L674.0 54.9 L675.5 54.5 L677.0 54.2 L678.5 53.9 L680.0 53.6 L681.5 53.2 L683.0 52.9 L684.5 52.6 L686.0 52.4 L687.5 52.1 L689.0 51.8 L690.5 51.5 L692.0 51.2 L693.5 50.9 L695.0 50.6 L696.5 50.3 L698.0 50.0 L699.5 49.7 L701.0 49.5 L702.5 49.3 L704.0 49.0 L705.5 48.8 L707.0 48.6 L708.5 48.4 L710.0 48.1 L711.5 47.9 L713.0 47.7 L714.5 47.5 L716.0 47.2 L717.5 47.0 L719.0 46.8 L720.5 46.6 L722.0 46.4 L723.5 46.2 L725.0 46.0 L726.5 45.8 L728.0 45.6 L729.5 45.4 L731.0 45.2 L732.5 45.1 L734.0 44.9 L735.5 44.7 L737.0 44.6 L738.5 44.4 L740.0 44.3 L741.5 44.1 L743.0 44.0 L744.5 43.9 L746.0 43.7 L747.5 43.6 L749.0 43.5 L750.5 43.3 L752.0 43.2 L753.5 43.1 L755.0 42.9 L756.5 42.8 L758.0 42.7 L759.5 42.6 L761.0 42.4 L762.5 42.3 L764.0 42.2 L765.5 42.1 L767.0 42.0 L768.5 41.9 L770.0 41.8 L771.5 41.7 L773.0 41.6 L774.5 41.5 L776.0 41.4 L777.5 41.3 L779.0 41.2 L780.5 41.1 L782.0 41.0 L783.5 40.9 L785.0 40.8 L786.5 40.8 L788.0 40.7 L789.5 40.6 L791.0 40.5 L792.5 40.4 L794.0 40.3 L795.5 40.2 L797.0 40.2 L798.5 40.1 L800.0 40.0 L801.5 39.9 L803.0 39.9 L804.5 39.8 L806.0 39.7 L807.5 39.7 L809.0 39.6 L810.5 39.6 L812.0 39.5 L813.5 39.5 L815.0 39.4 L816.5 39.4 L818.0 39.3 L819.5 39.3 L821.0 39.2 L822.5 39.2 L824.0 39.1 L825.5 39.1 L827.0 39.1 L828.5 39.0 L830.0 39.0 L831.5 39.0 L833.0 38.9 L834.5 38.9 L836.0 38.9 L837.5 38.8 L839.0 38.8 L840.5 38.8 L842.0 38.7 L843.5 38.7 L845.0 38.6 L846.5 38.6 L848.0 38.6 L849.5 38.5 L851.0 38.5 L852.5 38.5 L854.0 38.5 L855.5 38.4 L857.0 38.4 L858.5 38.4 L860.0 38.4 L861.5 38.3 L863.0 38.3 L864.5 38.3 L866.0 38.3 L867.5 38.2 L869.0 38.2 L870.5 38.2 L872.0 38.2 L873.5 38.1 L875.0 38.1 L876.5 38.1 L878.0 38.1 L879.5 38.1 L881.0 38.0 L882.5 38.0 L884.0 38.0 L885.5 38.0 L887.0 38.0 L888.5 37.9 L890.0 37.9 L891.5 37.9 L893.0 37.9 L894.5 37.9 L896.0 37.8 L897.5 37.8 L899.0 37.8 L900.5 37.8 L902.0 37.8 L903.5 37.8 L905.0 37.7 L906.5 37.7 L908.0 37.7 L909.5 37.7 L911.0 37.6 L912.5 37.6 L914.0 37.6 L915.5 37.6 L917.0 37.6 L918.5 37.5 L920.0 37.5 L921.5 37.5 L923.0 37.5 L924.5 37.5 L926.0 37.4 L927.5 37.4 L929.0 37.4 L930.5 37.4 L932.0 37.3 L933.5 37.3 L935.0 37.3 L936.5 37.3 L938.0 37.2 L939.5 37.2 L941.0 37.2 L942.5 37.2 L944.0 37.2 L945.5 37.1 L947.0 37.1 L948.5 37.1 L950.0 37.1 L951.5 37.0 L953.0 37.0 L954.0 37.0" stroke="#00ffff"/>
<path d="M213.8 602.0 L227.0 601.5 L228.5 600.9 L230.0 600.2 L231.5 599.4 L233.0 598.6 L234.5 597.6 L236.0 596.7 L237.5 595.7 L239.0 594.6 L240.5 593.4 L242.0 592.2 L243.5 591.0 L245.0 589.6 L246.5 588.1 L248.0 586.4 L249.5 584.8 L251.0 583.0 L252.5 581.2 L254.0 579.2 L255.5 577.0 L257.0 574.7 L258.5 572.1 L260.0 569.5 L261.5 566.9 L263.0 564.2 L264.5 561.5 L266.0 558.6 L267.5 555.5 L269.0 552.4 L270.5 549.2 L272.0 546.1 L273.5 543.0 L275.0 539.9 L276.5 536.8 L278.0 533.8 L279.5 530.8 L281.0 527.7 L282.5 524.7 L284.0 521.6 L285.5 518.4 L287.0 515.0 L288.5 511.6 L290.0 508.0 L291.5 504.5 L293.0 500.9 L294.5 497.5 L296.0 494.1 L297.5 490.8 L299.0 487.5 L300.5 484.4 L302.0 481.2 L303.5 477.8 L305.0 474.4 L306.5 470.9 L308.0 467.4 L309.5 463.8 L311.0 460.2 L312.5 456.6 L314.0 453.0 L315.5 449.4 L317.0 445.7 L318.5 442.0 L320.0 438.4 L321.5 434.9 L323.0 431.4 L324.5 428.0 L326.0 424.7 L327.5 421.4 L329.0 418.0 L330.5 414.5 L332.0 411.1 L333.5 407.6 L335.0 404.0 L336.5 400.5 L338.0 397.1 L339.5 394.0 L341.0 390.8 L342.5 387.7 L344.0 384.6 L345.5 381.5 L347.0 378.4 L348.5 375.2 L350.0 372.0 L351.5 368.8 L353.0 365.4 L354.5 362.1 L356.0 359.0 L357.5 355.9 L359.0 352.9 L360.5 350.0 L362.0 347.2 L363.5 344.5 L365.0 341.8 L366.5 338.7 L368.0 335.3 L369.5 331.7 L371.0 327.7 L372.5 323.3 L374.0 319.4 L375.5 316.2 L377.0 313.3 L378.5 310.4 L380.0 307.2 L381.5 304.0 L383.0 300.9 L384.5 298.0 L386.0 295.4 L387.5 292.8 L389.0 290.3 L390.5 287.8 L392.0 285.3 L393.5 282.9 L395.0 280.5 L396.5 278.1 L398.0 275.8 L399.5 273.4 L401.0 271.1 L402.5 268.7 L404.0 266.4 L405.5 264.0 L407.0 261.6 L408.5 259.2 L410.0 256.9 L411.5 254.5 L413.0 252.2 L414.5 249.8 L416.0 247.5 L417.5 245.2 L419.0 242.9 L420.5 240.5 L422.0 238.2 L423.5 235.8 L425.0 233.3 L426.5 230.9 L428.0 228.5 L429.5 226.1 L431.0 223.7 L432.5 221.3 L434.0 219.0 L435.5 216.8 L437.0 214.7 L438.5 212.6 L440.0 210.5 L441.5 208.5 L443.0 206.5 L444.5 204.5 L446.0 202.6 L447.5 200.6 L449.0 198.6 L450.5 196.6 L452.0 194.6 L453.5 192.7 L455.0 190.7 L456.5 188.7 L458.0 186.6 L459.5 184.6 L461.0 182.6 L462.5 180.7 L464.0 178.8 L465.5 177.1 L467.0 175.4 L468.5 173.7 L470.0 172.0 L471.5 170.3 L473.0 168.6 L474.5 166.9 L476.0 165.2 L477.5 163.4 L479.0 161.7 L480.5 160.0 L482.0 158.3 L483.5 156.6 L485.0 154.9 L486.5 153.3 L488.0 151.8 L489.5 150.3 L491.0 148.8 L492.5 147.3 L494.0 145.8 L495.5 144.4 L497.0 142.9 L498.5 141.5 L500.0 140.1 L501.5 138.7 L503.0 137.3 L504.5 135.9 L506.0 134.6 L507.5 133.2 L509.0 131.9 L510.5 130.6 L512.0 129.2 L513.5 127.9 L515.0 126.6 L516.5 125.3 L518.0 124.1 L519.5 122.8 L521.0 121.5 L522.5 120.3 L524.0 119.0 L525.5 117.8 L527.0 116.5 L528.5 115.3 L530.0 114.1 L531.5 112.9 L533.0 111.7 L534.5 110.5 L536.0 109.4 L537.5 108.2 L539.0 107.1 L540.5 106.0 L542.0 104.9 L543.5 103.8 L545.0 102.7 L546.5 101.7 L548.0 100.7 L549.5 99.7 L551.0 98.8 L552.5 97.9 L554.0 97.0 L555.5 96.2 L557.0 95.3 L558.5 94.5 L560.0 93.6 L561.5 92.8 L563.0 91.9 L564.5 91.0 L566.0 90.1 L567.5 89.3 L569.0 88.4 L570.5 87.5 L572.0 86.6 L573.5 85.8 L575.0 84.9 L576.5 84.0 L578.0 83.2 L579.5 82.3 L581.0 81.5 L582.5 80.7 L584.0 80.0 L585.5 79.2 L587.0 78.4 L588.5 77.7 L590.0 76.9 L591.5 76.2 L593.0 75.5 L594.5 74.7 L596.0 74.0 L597.5 73.3 L599.0 72.6 L600.5 71.9 L602.0 71.3 L603.5 70.6 L605.0 69.9 L606.5 69.2 L608.0 68.6 L609.5 68.0 L611.0 67.3 L612.5 66.7 L614.0 66.1 L615.5 65.6 L617.0 65.0 L618.5 64.5 L620.0 64.0 L621.5 63.5 L623.0 63.1 L624.5 62.6 L626.0 62.2 L627.5 61.8 L629.0 61.4 L630.5 61.0 L632.0 60.6 L633.5 60.2 L635.0 59.9 L636.5 59.5 L638.0 59.2 L639.5 58.8 L641.0 58.5 L642.5 58.1 L644.0 57.7 L645.5 57.4 L647.0 57.0 L648.5 56.7 L650.0 56.3 L651.5 56.0 L653.0 55.7 L654.5 55.4 L656.0 55.0 L657.5 54.7 L659.0 54.4 L660.5 54.1 L662.0 53.8 L663.5 53.5 L665.0 53.2 L666.5 52.9 L668.0 52.6 L669.5 52.3 L671.0 52.0 L672.5 51.7 L674.0 51.4 L675.5 51.1 L677.0 50.8 L678.5 50.5 L680.0 50.3 L681.5 50.0 L683.0 49.7 L684.5 49.4 L686.0 49.2 L687.5 48.9 L689.0 48.7 L690.5 48.4 L692.0 48.1 L693.5 47.9 L695.0 47.6 L696.5 47.4 L698.0 47.1 L699.5 46.8 L701.0 46.6 L702.5 46.3 L704.0 46.1 L705.5 45.9 L707.0 45.6 L708.5 45.4 L710.0 45.2 L711.5 44.9 L713.0 44.7 L714.5 44.5 L716.0 44.3 L717.5 44.1 L719.0 43.9 L720.5 43.7 L722.0 43.5 L723.5 43.3 L725.0 43.1 L726.5 43.0 L728.0 42.8 L729.5 42.7 L731.0 42.5 L732.5 42.4 L734.0 42.3 L735.5 42.1 L737.0 42.0 L738.5 41.9 L740.0 41.8 L741.5 41.7 L743.0 41.6 L744.5 41.5 L746.0 41.4 L747.5 41.3 L749.0 41.2 L750.5 41.1 L752.0 41.0 L753.5 40.9 L755.0 40.8 L756.5 40.7 L758.0 40.6 L759.5 40.5 L761.0 40.4 L762.5 40.4 L764.0 40.3 L765.5 40.2 L767.0 40.1 L768.5 40.1 L770.0 40.0 L771.5 39.9 L773.0 39.9 L774.5 39.8 L776.0 39.7 L777.5 39.7 L779.0 39.6 L780.5 39.6 L782.0 39.5 L783.5 39.5 L785.0 39.4 L786.5 39.4 L788.0 39.3 L789.5 39.3 L791.0 39.2 L792.5 39.1 L794.0 39.1 L795.5 39.1 L797.0 39.0 L798.5 39.0 L800.0 38.9 L801.5 38.9 L803.0 38.8 L804.5 38.7 L806.0 38.7 L807.5 38.6 L809.0 38.6 L810.5 38.6 L812.0 38.5 L813.5 38.5 L815.0 38.4 L816.5 38.4 L818.0 38.4 L819.5 38.3 L821.0 38.3 L822.5 38.3 L824.0 38.3 L825.5 38.2 L827.0 38.2 L828.5 38.2 L830.0 38.2 L831.5 38.1 L833.0 38.1 L834.5 38.1 L836.0 38.1 L837.5 38.1 L839.0 38.0 L840.5 38.0 L842.0 38.0 L843.5 38.0 L845.0 37.9 L846.5 37.9 L848.0 37.9 L849.5 37.9 L851.0 37.9 L852.5 37.9 L854.0 37.8 L855.5 37.8 L857.0 37.8 L858.5 37.8 L860.0 37.8 L861.5 37.8 L863.0 37.8 L864.5 37.8 L866.0 37.8 L867.5 37.7 L869.0 37.7 L870.5 37.7 L872.0 37.7 L873.5 37.7 L875.0 37.7 L876.5 37.7 L878.0 37.7 L879.5 37.7 L881.0 37.7 L882.5 37.7 L884.0 37.7 L885.5 37.7 L887.0 37.6 L888.5 37.6 L890.0 37.6 L891.5 37.6 L893.0 37.6 L894.5 37.6 L896.0 37.6 L897.5 37.6 L899.0 37.6 L900.5 37.6 L902.0 37.6 L903.5 37.6 L905.0 37.6 L906.5 37.5 L908.0 37.5 L909.5 37.5 L911.0 37.5 L912.5 37.5 L914.0 37.5 L915.5 37.4 L917.0 37.4 L918.5 37.4 L920.0 37.4 L921.5 37.4 L923.0 37.4 L924.5 37.3 L926.0 37.3 L927.5 37.3 L929.0 37.3 L930.5 37.3 L932.0 37.3 L933.5 37.2 L935.0 37.2 L936.5 37.2 L938.0 37.2 L939.5 37.2 L941.0 37.2 L942.5 37.1 L944.0 37.1 L945.5 37.1 L947.0 37.1 L948.5 37.1 L950.0 37.0 L951.5 37.0 L953.0 37.0 L954.0 37.0" stroke="#ffff00"/>
<path d="M213.8 602.0 L227.0 601.5 L228.5 600.9 L230.0 600.2 L231.5 599.5 L233.0 598.7 L234.5 597.9 L236.0 597.0 L237.5 596.0 L239.0 595.0 L240.5 593.9 L242.0 592.8 L243.5 591.5 L245.0 590.2 L246.5 588.7 L248.0 587.2 L249.5 585.6 L251.0 583.9 L252.5 582.1 L254.0 580.3 L255.5 578.2 L257.0 575.9 L258.5 573.5 L260.0 571.0 L261.5 568.5 L263.0 566.0 L264.5 563.4 L266.0 560.7 L267.5 557.9 L269.0 554.9 L270.5 551.8 L272.0 548.9 L273.5 546.0 L275.0 543.1 L276.5 540.2 L278.0 537.4 L279.5 534.5 L281.0 531.7 L282.5 528.8 L284.0 525.8 L285.5 522.7 L287.0 519.6 L288.5 516.3 L290.0 512.8 L291.5 509.4 L293.0 505.8 L294.5 502.3 L296.0 498.8 L297.5 495.4 L299.0 492.1 L300.5 488.9 L302.0 485.7 L303.5 482.5 L305.0 479.3 L306.5 475.9 L308.0 472.4 L309.5 469.0 L311.0 465.4 L312.5 461.9 L314.0 458.4 L315.5 455.0 L317.0 451.6 L318.5 448.2 L320.0 444.7 L321.5 441.3 L323.0 437.9 L324.5 434.6 L326.0 431.3 L327.5 428.1 L329.0 425.0 L330.5 421.9 L332.0 418.7 L333.5 415.4 L335.0 412.2 L336.5 408.9 L338.0 405.6 L339.5 402.2 L341.0 398.9 L342.5 395.6 L344.0 392.4 L345.5 389.2 L347.0 386.0 L348.5 382.9 L350.0 379.7 L351.5 376.5 L353.0 373.3 L354.5 370.0 L356.0 366.7 L357.5 363.3 L359.0 360.0 L360.5 356.8 L362.0 353.6 L363.5 350.5 L365.0 347.5 L366.5 344.6 L368.0 341.7 L369.5 338.7 L371.0 335.7 L372.5 332.6 L374.0 329.3 L375.5 325.6 L377.0 321.8 L378.5 318.0 L380.0 314.2 L381.5 310.4 L383.0 306.9 L384.5 303.6 L386.0 300.5 L387.5 297.6 L389.0 295.0 L390.5 292.4 L392.0 289.9 L393.5 287.3 L395.0 284.9 L396.5 282.4 L398.0 280.0 L399.5 277.6 L401.0 275.2 L402.5 272.9 L404.0 270.5 L405.5 268.1 L407.0 265.7 L408.5 263.3 L410.0 260.9 L411.5 258.5 L413.0 256.2 L414.5 253.8 L416.0 251.4 L417.5 249.1 L419.0 246.7 L420.5 244.4 L422.0 242.1 L423.5 239.7 L425.0 237.3 L426.5 234.9 L428.0 232.5 L429.5 230.1 L431.0 227.7 L432.5 225.2 L434.0 222.8 L435.5 220.5 L437.0 218.2 L438.5 216.0 L440.0 213.9 L441.5 211.8 L443.0 209.8 L444.5 207.7 L446.0 205.8 L447.5 203.8 L449.0 201.8 L450.5 199.8 L452.0 197.8 L453.5 195.9 L455.0 193.9 L456.5 191.9 L458.0 189.9 L459.5 187.9 L461.0 185.8 L462.5 183.8 L464.0 181.8 L465.5 179.9 L467.0 178.1 L468.5 176.4 L470.0 174.6 L471.5 173.0 L473.0 171.3 L474.5 169.6 L476.0 167.8 L477.5 166.1 L479.0 164.4 L480.5 162.6 L482.0 160.9 L483.5 159.2 L485.0 157.5 L486.5 155.8 L488.0 154.1 L489.5 152.5 L491.0 151.0 L492.5 149.6 L494.0 148.2 L495.5 146.8 L497.0 145.5 L498.5 144.1 L500.0 142.8 L501.5 141.4 L503.0 140.0 L504.5 138.7 L506.0 137.3 L507.5 136.0 L509.0 134.6 L510.5 133.2 L512.0 131.8 L513.5 130.4 L515.0 128.9 L516.5 127.5 L518.0 126.1 L519.5 124.7 L521.0 123.4 L522.5 122.2 L524.0 120.9 L525.5 119.7 L527.0 118.5 L528.5 117.3 L530.0 116.1 L531.5 114.9 L533.0 113.7 L534.5 112.5 L536.0 111.4 L537.5 110.2 L539.0 109.1 L540.5 108.0 L542.0 106.9 L543.5 105.8 L545.0 104.7 L546.5 103.7 L548.0 102.7 L549.5 101.7 L551.0 100.8 L552.5 99.9 L554.0 99.0 L555.5 98.2 L557.0 97.3 L558.5 96.5 L560.0 95.6 L561.5 94.8 L563.0 93.9 L564.5 93.0 L566.0 92.1 L567.5 91.3 L569.0 90.4 L570.5 89.5 L572.0 88.6 L573.5 87.8 L575.0 86.9 L576.5 86.0 L578.0 85.2 L579.5 84.3 L581.0 83.5 L582.5 82.7 L584.0 82.0 L585.5 81.2 L587.0 80.4 L588.5 79.7 L590.0 78.9 L591.5 78.2 L593.0 77.5 L594.5 76.7 L596.0 76.0 L597.5 75.3 L599.0 74.6 L600.5 73.9 L602.0 73.2 L603.5 72.6 L605.0 71.9 L606.5 71.2 L608.0 70.5 L609.5 69.9 L611.0 69.3 L612.5 68.6 L614.0 68.0 L615.5 67.5 L617.0 66.9 L618.5 66.3 L620.0 65.8 L621.5 65.3 L623.0 64.9 L624.5 64.4 L626.0 64.0 L627.5 63.6 L629.0 63.2 L630.5 62.8 L632.0 62.4 L633.5 62.0 L635.0 61.6 L636.5 61.3 L638.0 60.9 L639.5 60.5 L641.0 60.2 L642.5 59.8 L644.0 59.4 L645.5 59.1 L647.0 58.7 L648.5 58.4 L650.0 58.0 L651.5 57.7 L653.0 57.4 L654.5 57.1 L656.0 56.7 L657.5 56.4 L659.0 56.1 L660.5 55.8 L662.0 55.5 L663.5 55.2 L665.0 54.9 L666.5 54.6 L668.0 54.3 L669.5 54.0 L671.0 53.7 L672.5 53.4 L674.0 53.1 L675.5 52.8 L677.0 52.5 L678.5 52.2 L680.0 52.0 L681.5 51.7 L683.0 51.4 L684.5 51.1 L686.0 50.9 L687.5 50.6 L689.0 50.4 L690.5 50.1 L692.0 49.8 L693.5 49.6 L695.0 49.3 L696.5 49.1 L698.0 48.8 L699.5 48.5 L701.0 48.3 L702.5 48.0 L704.0 47.8 L705.5 47.5 L707.0 47.2 L708.5 47.0 L710.0 46.7 L711.5 46.5 L713.0 46.3 L714.5 46.0 L716.0 45.8 L717.5 45.6 L719.0 45.3 L720.5 45.1 L722.0 44.9 L723.5 44.8 L725.0 44.6 L726.5 44.4 L728.0 44.2 L729.5 44.1 L731.0 43.9 L732.5 43.7 L734.0 43.6 L735.5 43.5 L737.0 43.3 L738.5 43.2 L740.0 43.0 L741.5 42.9 L743.0 42.8 L744.5 42.7 L746.0 42.5 L747.5 42.4 L749.0 42.3 L750.5 42.2 L752.0 42.1 L753.5 42.0 L755.0 41.9 L756.5 41.8 L758.0 41.7 L759.5 41.6 L761.0 41.5 L762.5 41.4 L764.0 41.3 L765.5 41.2 L767.0 41.1 L768.5 41.0 L770.0 40.9 L771.5 40.8 L773.0 40.8 L774.5 40.7 L776.0 40.6 L777.5 40.5 L779.0 40.5 L780.5 40.4 L782.0 40.3 L783.5 40.2 L785.0 40.2 L786.5 40.1 L788.0 40.0 L789.5 40.0 L791.0 39.9 L792.5 39.8 L794.0 39.8 L795.5 39.7 L797.0 39.6 L798.5 39.6 L800.0 39.5 L801.5 39.4 L803.0 39.4 L804.5 39.3 L806.0 39.3 L807.5 39.2 L809.0 39.1 L810.5 39.1 L812.0 39.0 L813.5 39.0 L815.0 38.9 L816.5 38.9 L818.0 38.9 L819.5 38.8 L821.0 38.8 L822.5 38.7 L824.0 38.7 L825.5 38.7 L827.0 38.6 L828.5 38.6 L830.0 38.6 L831.5 38.6 L833.0 38.5 L834.5 38.5 L836.0 38.5 L837.5 38.4 L839.0 38.4 L840.5 38.4 L842.0 38.3 L843.5 38.3 L845.0 38.3 L846.5 38.2 L848.0 38.2 L849.5 38.2 L851.0 38.2 L852.5 38.1 L854.0 38.1 L855.5 38.1 L857.0 38.1 L858.5 38.1 L860.0 38.0 L861.5 38.0 L863.0 38.0 L864.5 38.0 L866.0 38.0 L867.5 37.9 L869.0 37.9 L870.5 37.9 L872.0 37.9 L873.5 37.9 L875.0 37.8 L876.5 37.8 L878.0 37.8 L879.5 37.8 L881.0 37.8 L882.5 37.8 L884.0 37.8 L885.5 37.7 L887.0 37.7 L888.5 37.7 L890.0 37.7 L891.5 37.7 L893.0 37.7 L894.5 37.7 L896.0 37.6 L897.5 37.6 L899.0 37.6 L900.5 37.6 L902.0 37.6 L903.5 37.6 L905.0 37.5 L906.5 37.5 L908.0 37.5 L909.5 37.5 L911.0 37.5 L912.5 37.5 L914.0 37.5 L915.5 37.4 L917.0 37.4 L918.5 37.4 L920.0 37.4 L921.5 37.4 L923.0 37.4 L924.5 37.3 L926.0 37.3 L927.5 37.3 L929.0 37.3 L930.5 37.3 L932.0 37.3 L933.5 37.2 L935.0 37.2 L936.5 37.2 L938.0 37.2 L939.5 37.2 L941.0 37.2 L942.5 37.1 L944.0 37.1 L945.5 37.1 L947.0 37.1 L948.5 37.1 L950.0 37.0 L951.5 37.0 L953.0 37.0 L954.0 37.0" stroke="#ff4500"/>
<path d="M213.8 602.0 L228.0 601.5 L229.5 601.0 L231.0 600.4 L232.5 599.9 L234.0 599.3 L235.5 598.8 L237.0 598.2 L238.5 597.4 L240.0 596.5 L241.5 595.5 L243.0 594.3 L244.5 593.1 L246.0 591.8 L247.5 590.5 L249.0 589.1 L250.5 587.6 L252.0 586.1 L253.5 584.4 L255.0 582.6 L256.5 580.7 L258.0 578.7 L259.5 576.6 L261.0 574.3 L262.5 571.6 L264.0 569.0 L265.5 566.4 L267.0 563.9 L268.5 561.4 L270.0 558.6 L271.5 555.6 L273.0 552.6 L274.5 549.6 L276.0 546.7 L277.5 543.9 L279.0 541.0 L280.5 538.2 L282.0 535.4 L283.5 532.6 L285.0 529.8 L286.5 527.0 L288.0 524.1 L289.5 521.2 L291.0 518.2 L292.5 515.0 L294.0 511.8 L295.5 508.5 L297.0 505.1 L298.5 501.6 L300.0 498.1 L301.5 494.6 L303.0 491.1 L304.5 487.7 L306.0 484.3 L307.5 481.0 L309.0 477.6 L310.5 474.2 L312.0 470.9 L313.5 467.6 L315.0 464.2 L316.5 460.9 L318.0 457.5 L319.5 454.2 L321.0 451.0 L322.5 447.8 L324.0 444.6 L325.5 441.4 L327.0 438.4 L328.5 435.3 L330.0 432.3 L331.5 429.4 L333.0 426.5 L334.5 423.6 L336.0 420.7 L337.5 417.8 L339.0 414.8 L340.5 411.9 L342.0 409.0 L343.5 406.1 L345.0 403.1 L346.5 400.2 L348.0 397.4 L349.5 394.5 L351.0 391.7 L352.5 388.9 L354.0 386.2 L355.5 383.5 L357.0 380.8 L358.5 378.1 L360.0 375.4 L361.5 372.7 L363.0 370.0 L364.5 367.3 L366.0 364.5 L367.5 361.8 L369.0 359.1 L370.5 356.4 L372.0 353.6 L373.5 350.9 L375.0 348.2 L376.5 345.4 L378.0 342.7 L379.5 339.9 L381.0 337.2 L382.5 334.4 L384.0 331.6 L385.5 328.8 L387.0 325.9 L388.5 323.1 L390.0 320.3 L391.5 317.5 L393.0 314.7 L394.5 311.9 L396.0 309.2 L397.5 306.5 L399.0 303.8 L400.5 301.2 L402.0 298.6 L403.5 296.0 L405.0 293.4 L406.5 290.9 L408.0 288.4 L409.5 285.9 L411.0 283.4 L412.5 280.9 L414.0 278.5 L415.5 276.1 L417.0 273.7 L418.5 271.3 L420.0 269.0 L421.5 266.7 L423.0 264.4 L424.5 262.2 L426.0 260.0 L427.5 257.8 L429.0 255.7 L430.5 253.5 L432.0 251.4 L433.5 249.4 L435.0 247.3 L436.5 245.4 L438.0 243.4 L439.5 241.5 L441.0 239.6 L442.5 237.7 L444.0 235.9 L445.5 234.1 L447.0 232.3 L448.5 230.5 L450.0 228.7 L451.5 226.9 L453.0 225.2 L454.5 223.4 L456.0 221.7 L457.5 219.9 L459.0 218.1 L460.5 216.2 L462.0 214.4 L463.5 212.6 L465.0 210.7 L466.5 208.9 L468.0 207.0 L469.5 205.1 L471.0 203.2 L472.5 201.4 L474.0 199.6 L475.5 197.8 L477.0 196.0 L478.5 194.3 L480.0 192.5 L481.5 190.8 L483.0 189.1 L484.5 187.5 L486.0 185.9 L487.5 184.3 L489.0 182.7 L490.5 181.1 L492.0 179.5 L493.5 177.8 L495.0 176.2 L496.5 174.5 L498.0 172.9 L499.5 171.2 L501.0 169.6 L502.5 167.9 L504.0 166.1 L505.5 164.4 L507.0 162.7 L508.5 161.1 L510.0 159.5 L511.5 157.9 L513.0 156.4 L514.5 154.9 L516.0 153.5 L517.5 152.1 L519.0 150.7 L520.5 149.4 L522.0 148.1 L523.5 146.9 L525.0 145.8 L526.5 144.6 L528.0 143.4 L529.5 142.3 L531.0 141.1 L532.5 139.9 L534.0 138.6 L535.5 137.4 L537.0 136.2 L538.5 135.0 L540.0 133.9 L541.5 132.7 L543.0 131.6 L544.5 130.5 L546.0 129.3 L547.5 128.2 L549.0 127.2 L550.5 126.1 L552.0 125.0 L553.5 124.0 L555.0 123.0 L556.5 122.0 L558.0 121.0 L559.5 120.0 L561.0 118.9 L562.5 117.9 L564.0 116.9 L565.5 115.9 L567.0 114.9 L568.5 113.9 L570.0 112.8 L571.5 111.8 L573.0 110.8 L574.5 109.8 L576.0 108.8 L577.5 107.8 L579.0 106.8 L580.5 105.9 L582.0 104.9 L583.5 104.0 L585.0 103.0 L586.5 102.1 L588.0 101.1 L589.5 100.2 L591.0 99.3 L592.5 98.4 L594.0 97.5 L595.5 96.6 L597.0 95.8 L598.5 94.9 L600.0 94.0 L601.5 93.2 L603.0 92.4 L604.5 91.6 L606.0 90.8 L607.5 90.1 L609.0 89.3 L610.5 88.6 L612.0 87.8 L613.5 87.1 L615.0 86.4 L616.5 85.7 L618.0 85.0 L619.5 84.3 L621.0 83.6 L622.5 82.9 L624.0 82.3 L625.5 81.6 L627.0 81.0 L628.5 80.3 L630.0 79.7 L631.5 79.1 L633.0 78.5 L634.5 77.9 L636.0 77.3 L637.5 76.7 L639.0 76.2 L640.5 75.6 L642.0 75.1 L643.5 74.6 L645.0 74.0 L646.5 73.5 L648.0 73.0 L649.5 72.5 L651.0 72.1 L652.5 71.6 L654.0 71.1 L655.5 70.7 L657.0 70.2 L658.5 69.8 L660.0 69.4 L661.5 68.9 L663.0 68.5 L664.5 68.0 L666.0 67.6 L667.5 67.1 L669.0 66.6 L670.5 66.2 L672.0 65.7 L673.5 65.3 L675.0 64.8 L676.5 64.3 L678.0 63.9 L679.5 63.5 L681.0 63.0 L682.5 62.7 L684.0 62.3 L685.5 61.9 L687.0 61.6 L688.5 61.2 L690.0 60.8 L691.5 60.5 L693.0 60.1 L694.5 59.7 L696.0 59.4 L697.5 59.0 L699.0 58.7 L700.5 58.3 L702.0 57.9 L703.5 57.6 L705.0 57.2 L706.5 56.9 L708.0 56.5 L709.5 56.2 L711.0 55.8 L712.5 55.5 L714.0 55.1 L715.5 54.8 L717.0 54.5 L718.5 54.1 L720.0 53.8 L721.5 53.4 L723.0 53.0 L724.5 52.7 L726.0 52.3 L727.5 51.9 L729.0 51.6 L730.5 51.2 L732.0 50.9 L733.5 50.5 L735.0 50.2 L736.5 49.9 L738.0 49.5 L739.5 49.2 L741.0 48.9 L742.5 48.6 L744.0 48.3 L745.5 48.0 L747.0 47.7 L748.5 47.5 L750.0 47.2 L751.5 47.0 L753.0 46.7 L754.5 46.5 L756.0 46.3 L757.5 46.0 L759.0 45.8 L760.5 45.6 L762.0 45.4 L763.5 45.2 L765.0 45.0 L766.5 44.8 L768.0 44.6 L769.5 44.4 L771.0 44.3 L772.5 44.1 L774.0 43.9 L775.5 43.7 L777.0 43.5 L778.5 43.4 L780.0 43.2 L781.5 43.0 L783.0 42.8 L784.5 42.7 L786.0 42.5 L787.5 42.3 L789.0 42.2 L790.5 42.0 L792.0 41.9 L793.5 41.8 L795.0 41.6 L796.5 41.5 L798.0 41.4 L799.5 41.2 L801.0 41.1 L802.5 41.0 L804.0 40.9 L805.5 40.8 L807.0 40.7 L808.5 40.6 L810.0 40.5 L811.5 40.4 L813.0 40.3 L814.5 40.2 L816.0 40.1 L817.5 40.0 L819.0 39.9 L820.5 39.9 L822.0 39.8 L823.5 39.7 L825.0 39.7 L826.5 39.6 L828.0 39.6 L829.5 39.5 L831.0 39.5 L832.5 39.5 L834.0 39.4 L835.5 39.4 L837.0 39.3 L838.5 39.3 L840.0 39.3 L841.5 39.2 L843.0 39.2 L844.5 39.2 L846.0 39.1 L847.5 39.1 L849.0 39.1 L850.5 39.0 L852.0 39.0 L853.5 39.0 L855.0 38.9 L856.5 38.9 L858.0 38.8 L859.5 38.8 L861.0 38.8 L862.5 38.7 L864.0 38.7 L865.5 38.7 L867.0 38.6 L868.5 38.6 L870.0 38.5 L871.5 38.5 L873.0 38.5 L874.5 38.4 L876.0 38.4 L877.5 38.4 L879.0 38.3 L880.5 38.3 L882.0 38.3 L883.5 38.2 L885.0 38.2 L886.5 38.2 L888.0 38.1 L889.5 38.1 L891.0 38.1 L892.5 38.0 L894.0 38.0 L895.5 38.0 L897.0 38.0 L898.5 37.9 L900.0 37.9 L901.5 37.9 L903.0 37.9 L904.5 37.8 L906.0 37.8 L907.5 37.8 L909.0 37.7 L910.5 37.7 L912.0 37.7 L913.5 37.7 L915.0 37.6 L916.5 37.6 L918.0 37.6 L919.5 37.6 L921.0 37.5 L922.5 37.5 L924.0 37.5 L925.5 37.5 L927.0 37.4 L928.5 37.4 L930.0 37.4 L931.5 37.4 L933.0 37.3 L934.5 37.3 L936.0 37.3 L937.5 37.3 L939.0 37.2 L940.5 37.2 L942.0 37.2 L943.5 37.2 L945.0 37.2 L946.5 37.1 L948.0 37.1 L949.5 37.1 L951.0 37.0 L952.5 37.0 L954.0 37.0" stroke="#888888"/>
<path d="M215.2 601.7 L216.5 601.5 L217.8 601.3 L219.1 600.9 L220.4 600.4 L221.7 599.8 L223.0 598.9 L224.3 597.8 L225.6 596.5 L227.0 594.9 L228.3 593.0 L229.6 590.7 L230.9 588.1 L232.2 585.0 L233.5 581.6 L234.8 577.8 L236.1 573.6 L237.4 568.9 L238.7 563.9 L240.1 558.4 L241.4 552.5 L242.7 546.3 L244.0 539.6 L245.3 532.6 L246.6 525.3 L247.9 517.7 L249.2 509.8 L250.5 501.6 L251.8 493.1 L253.2 484.5 L254.5 475.6 L255.8 466.6 L257.1 457.5 L258.4 448.2 L259.7 438.8 L261.0 429.4 L262.3 419.9 L263.6 410.4 L264.9 400.9 L266.3 391.3 L267.6 381.9 L268.9 372.4 L270.2 363.0 L271.5 353.7 L272.8 344.4 L274.1 335.3 L275.4 326.3 L276.7 317.3 L278.0 308.6 L279.4 299.9 L280.7 291.4 L282.0 283.0 L283.3 274.8 L284.6 266.8 L285.9 258.9 L287.2 251.2 L288.5 243.6 L289.8 236.3 L291.1 229.1 L292.5 222.0 L293.8 215.2 L295.1 208.5 L296.4 202.0 L297.7 195.7 L299.0 189.5 L300.3 183.6 L301.6 177.8 L302.9 172.2 L304.2 166.7 L305.6 161.4 L306.9 156.3 L308.2 151.3 L309.5 146.5 L310.8 141.9 L312.1 137.4 L313.4 133.1 L314.7 128.9 L316.0 124.9 L317.3 121.0 L318.7 117.2 L320.0 113.6 L321.3 110.1 L322.6 106.8 L323.9 103.5 L325.2 100.4 L326.5 97.4 L327.8 94.6 L329.1 91.8 L330.4 89.2 L331.8 86.6 L333.1 84.2 L334.4 81.9 L335.7 79.7 L337.0 77.5 L338.3 75.5 L339.6 73.5 L340.9 71.6 L342.2 69.9 L343.5 68.1 L344.9 66.5 L346.2 65.0 L347.5 63.5 L348.8 62.1 L350.1 60.7 L351.4 59.4 L352.7 58.2 L354.0 57.0 L355.3 55.9 L356.6 54.9 L358.0 53.9 L359.3 52.9 L360.6 52.0 L361.9 51.1 L363.2 50.3 L364.5 49.6 L365.8 48.8 L367.1 48.1 L368.4 47.5 L369.7 46.8 L371.1 46.3 L372.4 45.7 L373.7 45.2 L375.0 44.7 L376.3 44.2 L377.6 43.8 L378.9 43.3 L380.2 42.9 L381.5 42.6 L382.8 42.2 L384.2 41.9 L385.5 41.6 L386.8 41.3 L388.1 41.0 L389.4 40.7 L390.7 40.5 L392.0 40.3 L393.3 40.0 L394.6 39.8 L395.9 39.7 L397.3 39.5 L398.6 39.3 L399.9 39.1 L401.2 39.0 L402.5 38.9 L403.8 38.7 L405.1 38.6 L406.4 38.5 L407.7 38.4 L409.0 38.3 L410.4 38.2 L411.7 38.1 L413.0 38.0 L414.3 38.0 L415.6 37.9 L416.9 37.8 L418.2 37.8 L419.5 37.7 L420.8 37.7 L422.1 37.6 L423.5 37.6 L424.8 37.5 L426.1 37.5 L427.4 37.4 L428.7 37.4 L430.0 37.4" stroke="#000" stroke-width="1.55" stroke-dasharray="6.1 2.2"/>
</g>
<rect x="168" y="37" width="786" height="565" fill="none" stroke="#000" stroke-width="2"/>
<g font-family="'Liberation Sans', sans-serif" font-size="30" fill="#000" stroke="#000" stroke-width="0.32">
<text x="163.66" y="642.60">0</text>
<path stroke="none" transform="translate(294.54,642.60)" d="M10.8 0H8.05V-14.9H2.35V-16.8C5.3 -16.8 7.6 -18 8.6 -20.8H10.8Z"/>
<text x="425.66" y="642.60">2</text>
<text x="556.66" y="642.60">3</text>
<text x="687.66" y="642.60">4</text>
<text x="818.66" y="642.60">5</text>
<text x="949.66" y="642.60">6</text>
<text x="133.40" y="612.00">0</text>
<text x="107.71" y="499.00">0</text><text x="124.72" y="499.00">.</text><text x="133.40" y="499.00">2</text>
<text x="107.71" y="386.00">0</text><text x="124.72" y="386.00">.</text><text x="133.40" y="386.00">4</text>
<text x="107.71" y="273.00">0</text><text x="124.72" y="273.00">.</text><text x="133.40" y="273.00">6</text>
<text x="107.71" y="160.00">0</text><text x="124.72" y="160.00">.</text><text x="133.40" y="160.00">8</text>
<path stroke="none" transform="translate(133.28,47.00)" d="M10.8 0H8.05V-14.9H2.35V-16.8C5.3 -16.8 7.6 -18 8.6 -20.8H10.8Z"/>
<text transform="translate(698.6,294.6) scale(1.12,1)" stroke-width="0.12" font-family="'Liberation Serif', serif" font-size="33.2">α</text>
<path d="M727.1 283.80h15.2v2.3h-15.2zM727.1 289.90h15.2v2.3h-15.2z"/>
<path stroke="none" transform="translate(769.75,294.60)" d="M10.8 0H8.05V-14.9H2.35V-16.8C5.3 -16.8 7.6 -18 8.6 -20.8H10.8Z"/><text x="786.10" y="294.60">0</text>
<text x="803.3" y="280.0" font-size="24.4">o</text>
<path d="M835 281.8H917.5" stroke="#ff0000" stroke-width="1.9" fill="none"/>
<text transform="translate(698.6,331.2) scale(1.12,1)" stroke-width="0.12" font-family="'Liberation Serif', serif" font-size="33.2">α</text>
<path d="M727.1 320.42h15.2v2.3h-15.2zM727.1 326.52h15.2v2.3h-15.2z"/>
<text x="768.97" y="331.22">2</text><text x="786.10" y="331.22">0</text>
<text x="803.3" y="316.6" font-size="24.4">o</text>
<path d="M835 318.4H917.5" stroke="#00ff00" stroke-width="1.9" fill="none"/>
<text transform="translate(698.6,367.8) scale(1.12,1)" stroke-width="0.12" font-family="'Liberation Serif', serif" font-size="33.2">α</text>
<path d="M727.1 357.04h15.2v2.3h-15.2zM727.1 363.14h15.2v2.3h-15.2z"/>
<text x="768.97" y="367.84">3</text><text x="786.10" y="367.84">0</text>
<text x="803.3" y="353.2" font-size="24.4">o</text>
<path d="M835 355.0H917.5" stroke="#0000ff" stroke-width="1.9" fill="none"/>
<text transform="translate(698.6,404.5) scale(1.12,1)" stroke-width="0.12" font-family="'Liberation Serif', serif" font-size="33.2">α</text>
<path d="M727.1 393.66h15.2v2.3h-15.2zM727.1 399.76h15.2v2.3h-15.2z"/>
<text x="768.97" y="404.46">7</text><text x="786.10" y="404.46">0</text>
<text x="803.3" y="389.9" font-size="24.4">o</text>
<path d="M835 391.7H917.5" stroke="#ff00ff" stroke-width="1.9" fill="none"/>
<text transform="translate(698.6,441.1) scale(1.12,1)" stroke-width="0.12" font-family="'Liberation Serif', serif" font-size="33.2">α</text>
<path d="M727.1 430.28h15.2v2.3h-15.2zM727.1 436.38h15.2v2.3h-15.2z"/>
<text x="768.97" y="441.08">9</text><text x="786.10" y="441.08">0</text>
<text x="803.3" y="426.5" font-size="24.4">o</text>
<path d="M835 428.3H917.5" stroke="#00ffff" stroke-width="1.9" fill="none"/>
<text transform="translate(698.6,477.7) scale(1.12,1)" stroke-width="0.12" font-family="'Liberation Serif', serif" font-size="33.2">α</text>
<path d="M727.1 466.90h15.2v2.3h-15.2zM727.1 473.00h15.2v2.3h-15.2z"/>
<path stroke="none" transform="translate(752.63,477.70)" d="M10.8 0H8.05V-14.9H2.35V-16.8C5.3 -16.8 7.6 -18 8.6 -20.8H10.8Z"/><text x="768.97" y="477.70">2</text><text x="786.10" y="477.70">0</text>
<text x="803.3" y="463.1" font-size="24.4">o</text>
<path d="M835 464.9H917.5" stroke="#ffff00" stroke-width="1.9" fill="none"/>
<text transform="translate(698.6,514.3) scale(1.12,1)" stroke-width="0.12" font-family="'Liberation Serif', serif" font-size="33.2">α</text>
<path d="M727.1 503.52h15.2v2.3h-15.2zM727.1 509.62h15.2v2.3h-15.2z"/>
<path stroke="none" transform="translate(752.63,514.32)" d="M10.8 0H8.05V-14.9H2.35V-16.8C5.3 -16.8 7.6 -18 8.6 -20.8H10.8Z"/><text x="768.97" y="514.32">8</text><text x="786.10" y="514.32">0</text>
<text x="803.3" y="499.7" font-size="24.4">o</text>
<path d="M835 501.5H917.5" stroke="#ff4500" stroke-width="1.9" fill="none"/>
<text transform="translate(698.6,550.9) scale(1.12,1)" stroke-width="0.12" font-family="'Liberation Serif', serif" font-size="33.2">α</text>
<path d="M727.1 540.14h15.2v2.3h-15.2zM727.1 546.24h15.2v2.3h-15.2z"/>
<text x="751.85" y="550.94">3</text><text x="768.97" y="550.94">6</text><text x="786.10" y="550.94">0</text>
<text x="803.3" y="536.3" font-size="24.4">o</text>
<path d="M835 538.1H917.5" stroke="#888888" stroke-width="1.9" fill="none"/>
<path d="M835 574.8H917" stroke="#000" stroke-width="1.9" stroke-dasharray="6.1 2.2" fill="none"/>
<text x="740" y="581.8" stroke-width="0.5" font-family="'Liberation Serif', serif" font-size="31.5">Φ</text>
<text x="763.9" y="590.2" font-size="24.4">K</text>
<text x="780" y="581.8">(</text>
<text transform="translate(790.4,581.8) scale(1.09,1)" stroke-width="0.12" font-family="'Liberation Serif', serif" font-size="31.5">λ</text>
<text x="808.2" y="581.8">)</text>
<text transform="translate(552.8,689.3) scale(1.09,1)" stroke-width="0.12" font-family="'Liberation Serif', serif" font-size="31.5">λ</text>
<g transform="translate(53.2,363.3) rotate(-90)">
<text transform="scale(0.857,1)" stroke-width="0.5" font-family="'Liberation Serif', serif" font-size="31.5">Φ</text>
<text x="23.6" y="0">(</text>
<text x="34.2" y="0">n</text>
<text x="50.9" y="0">,</text>
<text transform="translate(58.85,0) scale(1.09,1)" stroke-width="0.12" font-family="'Liberation Serif', serif" font-size="31.5">λ</text>
<text x="76.3" y="0">)</text>
</g>
</g>
</svg>
</body></html>
